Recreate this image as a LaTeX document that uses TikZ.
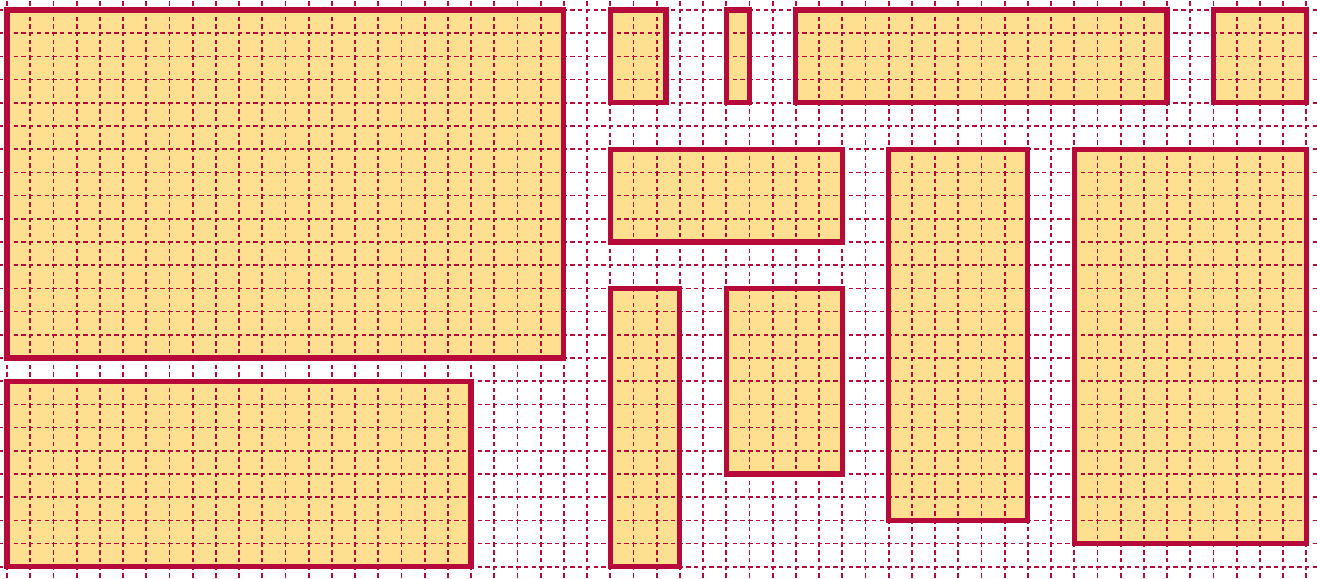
\documentclass[tikz,border=0pt]{standalone}
\definecolor{boxfill}{RGB}{254,224,144}
\definecolor{crimson}{RGB}{181,10,58}
\tikzset{
  fillstyle/.style={fill=boxfill},
  gridline/.style={draw=crimson, line width=2.2pt, dash pattern=on 0.19cm off 0.1433cm, dash phase=0.05cm},
  outline/.style={draw=crimson, line width=6.6pt}
}
\begin{document}
\begin{tikzpicture}
\useasboundingbox (-0.302,0.431) rectangle (56.466,-24.526);
\clip (-0.302,0.431) rectangle (56.466,-24.526);
\def\rects{0/0/24/15, 0/16/20/24, 26/0/28.4/4, 31/0/32/4, 34/0/50/4, 52/0/56/4, 26/6/36/10, 38/6/44/22, 46/6/56/23, 26/12/29/24, 31/12/36/20}
\foreach \a/\b/\c/\d in \rects {
  \path[fillstyle] (\a,-\b) rectangle (\c,-\d);
}
\foreach \x in {-1,...,57} {
  \path[gridline] (\x,1) -- (\x,-25);
}
\foreach \y in {-1,...,25} {
  \path[gridline] (-1,-\y) -- (57,-\y);
}
\foreach \a/\b/\c/\d in \rects {
  \path[outline] (\a,-\b) rectangle (\c,-\d);
}
\end{tikzpicture}
\end{document}
